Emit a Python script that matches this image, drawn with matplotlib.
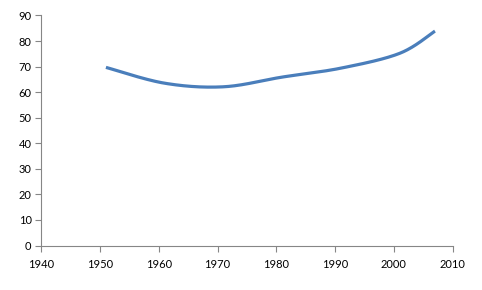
import numpy as np
import matplotlib
matplotlib.use("Agg")
import matplotlib.pyplot as plt

years = [1951, 1961, 1971, 1981, 1991, 2001, 2007]
values = [69.7, 63.5, 62.1, 65.9, 69.4, 75.2, 83.9]
x_ticks = [1940, 1950, 1960, 1970, 1980, 1990, 2000, 2010]
y_ticks = [0, 10, 20, 30, 40, 50, 60, 70, 80, 90]


def smooth(xs, ys, n=60):
    P = np.column_stack([xs, ys]).astype(float)
    P_ext = np.vstack([P[0], P, P[-1]])
    out = []
    t = np.linspace(0, 1, n)[:, None]
    for i in range(len(P) - 1):
        p0, p1, p2, p3 = P_ext[i], P_ext[i + 1], P_ext[i + 2], P_ext[i + 3]
        c1 = p1 + (p2 - p0) / 6.0
        c2 = p2 - (p3 - p1) / 6.0
        seg = ((1 - t) ** 3) * p1 + 3 * ((1 - t) ** 2) * t * c1 + 3 * (1 - t) * t ** 2 * c2 + t ** 3 * p2
        out.append(seg if i == 0 else seg[1:])
    S = np.vstack(out)
    return S[:, 0], S[:, 1]


plt.rcParams['font.family'] = ['Lato', 'DejaVu Sans']
fig = plt.figure(figsize=(4.82, 2.90), dpi=100)
ax = fig.add_axes([0.0857, 0.1534, 0.8533, 0.7932])

sx, sy = smooth(years, values)
ax.plot(sx, sy, color='#4A7EBB', linewidth=2.3, solid_capstyle='butt')

ax.set_xlim(1940, 2010)
ax.set_ylim(0, 90)
ax.set_xticks(x_ticks)
ax.set_yticks(y_ticks)
for s in ['top', 'right']:
    ax.spines[s].set_visible(False)
for s in ['left', 'bottom']:
    ax.spines[s].set_color('#868686')
    ax.spines[s].set_linewidth(0.8)
ax.tick_params(axis='both', colors='#868686', labelcolor='black', labelsize=8, length=4, width=0.8, direction='out')
ax.tick_params(axis='x', pad=6)
ax.tick_params(axis='y', pad=3)

fig.savefig('out.png', dpi=100)
